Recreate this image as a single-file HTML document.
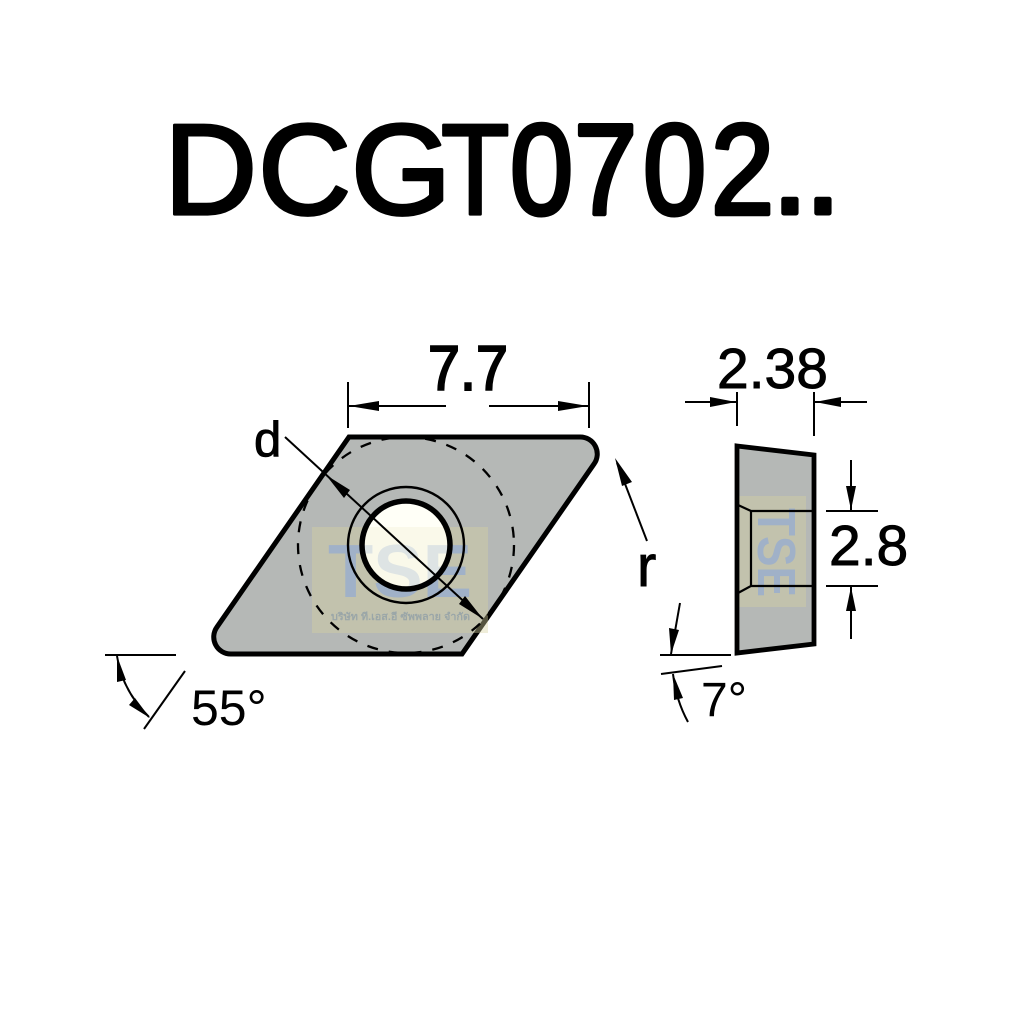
<!DOCTYPE html>
<html><head><meta charset="utf-8"><style>html,body{margin:0;padding:0;background:#fff}svg{display:block}text{font-family:"Liberation Sans","Noto Sans CJK SC",sans-serif;fill:#000}.t{font-size:129px;stroke:#000;stroke-linejoin:round}.l{stroke:#000;stroke-width:.9px}</style></head><body>
<svg width="1024" height="1024" viewBox="0 0 1024 1024" xmlns="http://www.w3.org/2000/svg">
<rect width="1024" height="1024" fill="#fff"/>
<text class="t" x="164 258 351" y="214" stroke-width="3.2">DCG</text>
<text class="t" transform="translate(441,214) scale(.87,1)" stroke-width="3.2">T</text>
<text class="t" transform="translate(510,214) scale(.88,1)" stroke-width="4.4">0</text>
<text class="t" transform="translate(574,214) scale(.88,1)" stroke-width="4.4">7</text>
<text class="t" transform="translate(643,214) scale(.88,1)" stroke-width="4.4">0</text>
<text class="t" transform="translate(711,214) scale(.88,1)" stroke-width="4.4">2</text>
<text class="t" x="772 805" y="213" stroke-width="5">..</text>

<!-- left insert -->
<path d="M349 437H580A17 17 0 0 1 594 464L462 654H231A17 17 0 0 1 217 627Z" fill="#b5b8b6" stroke="#000" stroke-width="5" stroke-linejoin="miter"/>
<circle cx="406" cy="545" r="42" fill="#fff"/>
<rect x="312" y="527" width="176" height="106" fill="#d6d3a0" opacity=".4"/>
<text x="328" y="597" font-size="75" font-weight="bold" textLength="144" lengthAdjust="spacingAndGlyphs" style="fill:#a0b1c8">TSE</text>
<text x="331" y="620" font-size="10" font-weight="bold" style="fill:#9aa6a8" textLength="139" lengthAdjust="spacingAndGlyphs">บริษัท ที.เอส.อี ซัพพลาย จำกัด</text>
<circle cx="406" cy="545" r="42" fill="#fffff2" opacity=".65"/>
<circle cx="406" cy="545" r="44" fill="none" stroke="#000" stroke-width="5.5"/>
<circle cx="406" cy="545" r="58" fill="none" stroke="#000" stroke-width="2.4"/>
<circle cx="406" cy="545" r="108" fill="none" stroke="#000" stroke-width="2.3" stroke-dasharray="11 11"/>
<line x1="285" y1="437" x2="483" y2="619" stroke="#000" stroke-width="2"/>
<path d="M326 475L344 498L350 490Z" fill="#000"/>
<path d="M483 619L459 604L465 596Z" fill="#000"/>
<text class="l" x="254" y="456" font-size="49">d</text>

<!-- 7.7 dimension -->
<line x1="348" y1="382" x2="348" y2="428" stroke="#000" stroke-width="2"/>
<line x1="589" y1="382" x2="589" y2="428" stroke="#000" stroke-width="2"/>
<line x1="349" y1="406" x2="446" y2="406" stroke="#000" stroke-width="2"/>
<line x1="489" y1="406" x2="588" y2="406" stroke="#000" stroke-width="2"/>
<path d="M349 406L379 401V411Z" fill="#000"/>
<path d="M588 406L558 401V411Z" fill="#000"/>
<text x="428" y="390" font-size="63" textLength="80" lengthAdjust="spacingAndGlyphs" stroke="#000" stroke-width="2">7.7</text>

<!-- r -->
<line x1="617" y1="463" x2="647" y2="541" stroke="#000" stroke-width="2"/>
<path d="M615 458L632 482L622 486Z" fill="#000"/>
<text class="l" x="637" y="586" font-size="58">r</text>

<!-- 55 deg -->
<line x1="105" y1="655" x2="176" y2="655" stroke="#000" stroke-width="2"/>
<line x1="144" y1="729" x2="185" y2="671" stroke="#000" stroke-width="2"/>
<path d="M117 656Q122 690 149 717" fill="none" stroke="#000" stroke-width="2"/>
<path d="M117 656L126 680L117 682Z" fill="#000"/>
<path d="M150 718L129 705L135 698Z" fill="#000"/>
<text x="191" y="725" font-size="50">55°</text>

<!-- right insert -->
<path d="M737 446L814 455V644L737 653Z" fill="#b5b8b6"/>
<rect x="738" y="496" width="68" height="111" fill="#d6d3a0" opacity=".4"/>
<text transform="translate(758,508) rotate(90)" font-size="54" font-weight="bold" style="fill:#a0b1c8" textLength="89" lengthAdjust="spacingAndGlyphs">TSE</text>
<path d="M737 446L814 455V644L737 653Z" fill="none" stroke="#000" stroke-width="4.8" stroke-linejoin="miter"/>
<path d="M738 505L751 511V586L738 593M751 511H814M751 586H814" fill="none" stroke="#000" stroke-width="2.2"/>

<!-- 2.38 -->
<line x1="737" y1="392" x2="737" y2="426" stroke="#000" stroke-width="2"/>
<line x1="814" y1="392" x2="814" y2="436" stroke="#000" stroke-width="2"/>
<line x1="685" y1="402" x2="736" y2="402" stroke="#000" stroke-width="2"/>
<line x1="815" y1="402" x2="867" y2="402" stroke="#000" stroke-width="2"/>
<path d="M736 402L710 397V407Z" fill="#000"/>
<path d="M815 402L841 397V407Z" fill="#000"/>
<text class="l" x="717" y="388" font-size="57">2.38</text>

<!-- 2.8 -->
<line x1="826" y1="511" x2="878" y2="511" stroke="#000" stroke-width="2"/>
<line x1="826" y1="586" x2="878" y2="586" stroke="#000" stroke-width="2"/>
<line x1="851" y1="460" x2="851" y2="510" stroke="#000" stroke-width="2"/>
<line x1="851" y1="587" x2="851" y2="639" stroke="#000" stroke-width="2"/>
<path d="M851 510L846 486H856Z" fill="#000"/>
<path d="M851 587L846 611H856Z" fill="#000"/>
<text class="l" x="829" y="565" font-size="57">2.8</text>

<!-- 7 deg -->
<line x1="660" y1="655" x2="731" y2="655" stroke="#000" stroke-width="2"/>
<line x1="661" y1="674" x2="722" y2="666" stroke="#000" stroke-width="2"/>
<path d="M680 603L671 654" fill="none" stroke="#000" stroke-width="2"/>
<path d="M671 654L669 628L679 630Z" fill="#000"/>
<path d="M673 674Q676 700 688 722" fill="none" stroke="#000" stroke-width="2"/>
<path d="M673 674L683 698L674 700Z" fill="#000"/>
<text x="701" y="716" font-size="48">7°</text>
</svg>
</body></html>
